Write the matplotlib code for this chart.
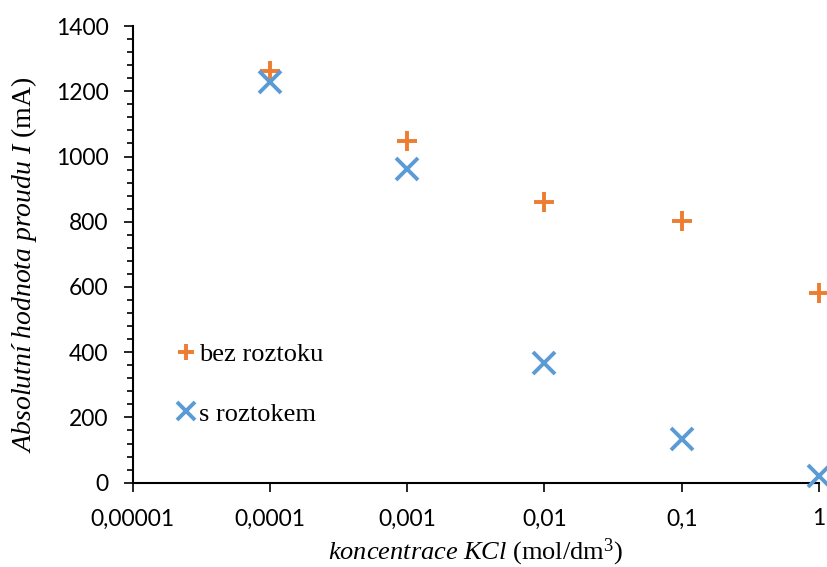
import matplotlib.pyplot as plt
import numpy as np
from matplotlib.ticker import AutoMinorLocator, FuncFormatter

plt.rcParams['mathtext.fontset'] = 'custom'
plt.rcParams['mathtext.rm'] = 'Liberation Serif'
plt.rcParams['mathtext.it'] = 'Liberation Serif:italic'

# koncentrace KCl (mol/dm3) a proud (mA)
koncentrace = [0.0001, 0.001, 0.01, 0.1, 1]
bez_roztoku = [1262, 1048, 861, 803, 581]
s_roztokem = [1229, 961, 366, 133, 21]

x_ticks = [0.00001, 0.0001, 0.001, 0.01, 0.1, 1]
x_labels = ['0,00001', '0,0001', '0,001', '0,01', '0,1', '1']

orange = '#ED7D31'
blue = '#5B9BD5'

fig = plt.figure(figsize=(8.27, 5.67), dpi=100)
ax = fig.add_axes([0.1605, 0.1487, 0.8298, 0.8054])

ax.plot(koncentrace, bez_roztoku, linestyle='none', marker='+', ms=14.5, mew=2.8,
        color=orange, label='bez roztoku', clip_on=False, zorder=3)
ax.plot(koncentrace, s_roztokem, linestyle='none', marker='x', ms=16, mew=2.8,
        color=blue, label='s roztokem', clip_on=False, zorder=3)

ax.set_xscale('log')
ax.set_xlim(0.00001, 1)
ax.set_ylim(0, 1400)
ax.set_xticks(x_ticks)
ax.set_xticklabels(x_labels)
ax.xaxis.set_minor_locator(plt.NullLocator())
ax.set_yticks(np.arange(0, 1401, 200))
ax.yaxis.set_minor_locator(AutoMinorLocator(5))
ax.yaxis.set_major_formatter(FuncFormatter(lambda v, p: f'{v:.0f}'))

for side in ['top', 'right']:
    ax.spines[side].set_visible(False)
for side in ['left', 'bottom']:
    ax.spines[side].set_linewidth(1.5)

ax.tick_params(axis='both', which='major', direction='out', length=6.5, width=1.2,
               labelsize=16.5, labelfontfamily='Lato')
ax.tick_params(axis='x', which='major', pad=12)
ax.tick_params(axis='y', which='major', pad=11)
ax.tick_params(axis='y', which='minor', direction='out', length=4, width=1.2)

ax.set_xlabel(r'$\mathit{koncentrace\ KCl}$ (mol/dm$^3$)', fontsize=19,
              family='Liberation Serif', labelpad=5)
ax.set_ylabel(r'$\mathit{Absolutní\ hodnota\ proudu\ I}$ (mA)', fontsize=20,
              family='Liberation Serif')
ax.yaxis.set_label_coords(-0.137, 0.477)

ax.legend(loc='upper left', bbox_to_anchor=(0.031, 0.358), frameon=False,
          prop={'family': 'Liberation Serif', 'size': 19}, markerscale=0.8,
          handlelength=0.6, handletextpad=0.2, labelspacing=1.35)

fig.savefig('out.png', dpi=100)
